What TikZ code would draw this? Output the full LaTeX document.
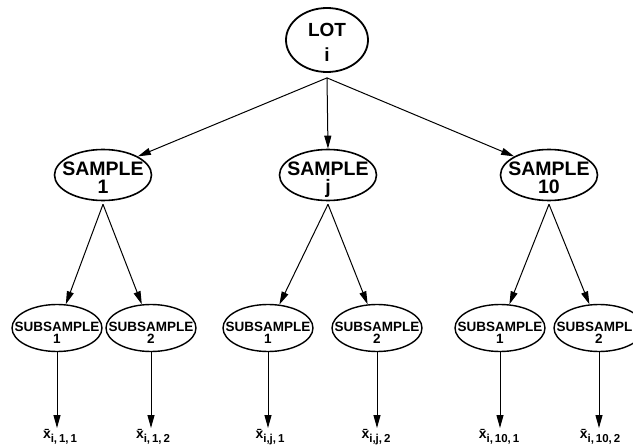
\documentclass[tikz,border=0pt]{standalone}
\usepackage{fontspec}
\setmainfont{Liberation Sans}
\usetikzlibrary{shapes.geometric,arrows.meta}
\newcommand{\xlab}[1]{\={x}\raisebox{-3.5pt}{\fontsize{11.5}{11.5}\selectfont #1}}
\begin{document}
\begin{tikzpicture}[x=1pt,y=-1pt,
  lot/.style={ellipse,draw,line width=1.8pt,minimum width=82pt,minimum height=64pt,inner sep=0pt},
  samp/.style={ellipse,draw,line width=1.6pt,minimum width=97pt,minimum height=51pt,inner sep=0pt},
  sub/.style={ellipse,draw,line width=1.4pt,minimum width=90pt,minimum height=47pt,inner sep=0pt},
  lottxt/.style={font=\bfseries\fontsize{19}{25}\selectfont,align=center,inner sep=0pt},
  stxt/.style={font=\bfseries\fontsize{19.5}{18}\selectfont,align=center,inner sep=0pt},
  sstxt/.style={font=\bfseries\fontsize{13.5}{12}\selectfont,align=center,inner sep=0pt},
  lab/.style={inner sep=1pt,anchor=north,font=\bfseries\fontsize{14}{14}\selectfont},
  arr/.style={line width=1pt,-{Triangle[length=13pt,width=7pt]}}]
\useasboundingbox (0,0) rectangle (633,447);
\clip (0,0) rectangle (633,447);

\node[lot,label={[lottxt,yshift=-2pt]center:LOT\\i}] (LOT) at (327,40) {};

\node[samp,label={[stxt,yshift=-3pt]center:SAMPLE\\1}] (S1) at (103,175) {};
\node[samp,label={[stxt,yshift=-3pt]center:SAMPLE\\\raisebox{0pt}[\height][0pt]{j}}] (Sj) at (328,175) {};
\node[samp,label={[stxt,yshift=-3pt]center:SAMPLE\\10}] (S10) at (549,175) {};

\node[sub,label={[sstxt,yshift=-5pt]center:SUBSAMPLE\\1}] (A1) at (57,328) {};
\node[sub,label={[sstxt,yshift=-5pt]center:SUBSAMPLE\\2}] (A2) at (151,328) {};
\node[sub,label={[sstxt,yshift=-5pt]center:SUBSAMPLE\\1}] (B1) at (268,328) {};
\node[sub,label={[sstxt,yshift=-5pt]center:SUBSAMPLE\\2}] (B2) at (377,328) {};
\node[sub,label={[sstxt,yshift=-5pt]center:SUBSAMPLE\\1}] (C1) at (500,328) {};
\node[sub,label={[sstxt,yshift=-5pt]center:SUBSAMPLE\\2}] (C2) at (599,328) {};

\node[lab] (LA1) at (60,428) {\xlab{i,\,1,\,1}};
\node[lab] (LA2) at (153,428) {\xlab{i,\,1,\,2}};
\node[lab] (LB1) at (270,428) {\xlab{i,j,\,1}};
\node[lab] (LB2) at (376,428) {\xlab{i,j,\,2}};
\node[lab] (LC1) at (499,428) {\xlab{i,\,10,\,1}};
\node[lab] (LC2) at (600,428) {\xlab{i,\,10,\,2}};

\coordinate (L0) at ([yshift=-5pt]LOT.south);
\draw[arr] (L0) -- (S1.north east);
\draw[arr] (L0) -- (Sj.north);
\draw[arr] (L0) -- (S10.north west);

\draw[arr] ([yshift=-3pt]S1.south) -- (A1);
\draw[arr] ([yshift=-3pt]S1.south) -- (A2);
\draw[arr] ([yshift=-3pt]Sj.south) -- (B1);
\draw[arr] ([yshift=-3pt]Sj.south) -- (B2);
\draw[arr] ([yshift=-3pt]S10.south) -- (C1);
\draw[arr] ([yshift=-3pt]S10.south) -- (C2);

\draw[arr] (A1.south) -- (A1.south |- LA1.north);
\draw[arr] (A2.south) -- (A2.south |- LA2.north);
\draw[arr] (B1.south) -- (B1.south |- LB1.north);
\draw[arr] (B2.south) -- (B2.south |- LB2.north);
\draw[arr] (C1.south) -- (C1.south |- LC1.north);
\draw[arr] (C2.south) -- (C2.south |- LC2.north);
\end{tikzpicture}
\end{document}
